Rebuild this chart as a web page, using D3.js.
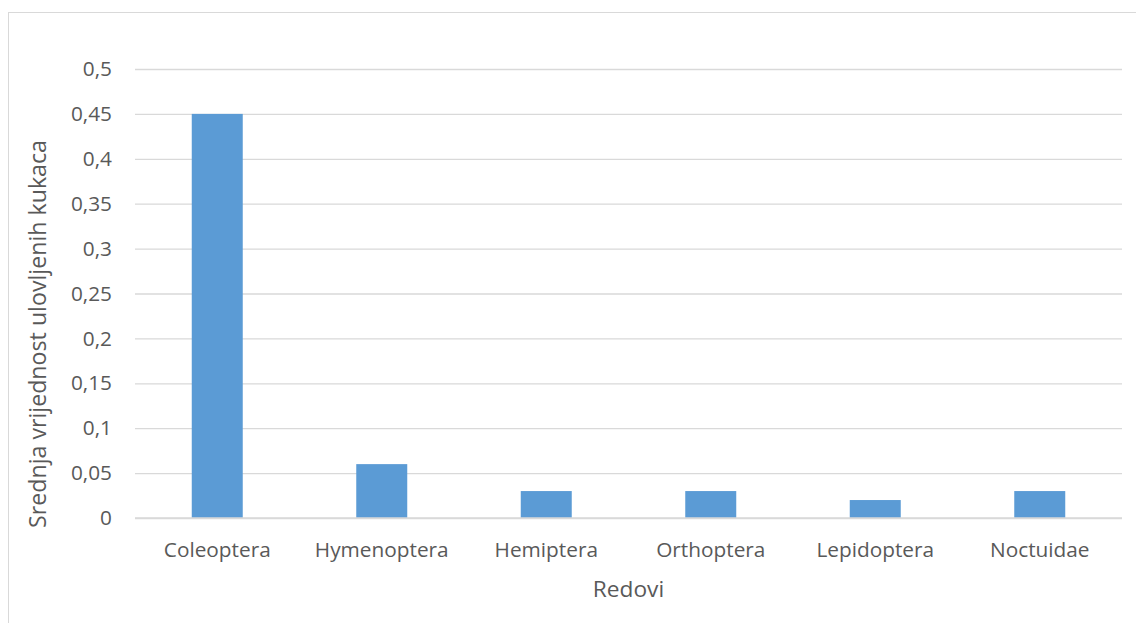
<!DOCTYPE html>
<html>
<head>
<meta charset="utf-8">
<script src="https://cdn.jsdelivr.net/npm/d3@7"></script>
<style>
  body { margin: 0; background: #fff; }
  svg { display: block; }
  text { font-family: "Open Sans", sans-serif; fill: #595959; }
</style>
</head>
<body>
<div id="chart"></div>
<script>
// data
var categories = ["Coleoptera", "Hymenoptera", "Hemiptera", "Orthoptera", "Lepidoptera", "Noctuidae"];
var values = [0.45, 0.06, 0.03, 0.03, 0.02, 0.03];
var yTicks = [0, 0.05, 0.1, 0.15, 0.2, 0.25, 0.3, 0.35, 0.4, 0.45, 0.5];
var yTitle = "Srednja vrijednost ulovljenih kukaca";
var xTitle = "Redovi";

var W = 1136, H = 623;
var plotLeft = 135, plotRight = 1122, plotTop = 69, plotBottom = 518;

var svg = d3.select("#chart").append("svg").attr("width", W).attr("height", H);

// chart frame (runs off the right and bottom edge like the reference)
svg.append("rect")
  .attr("x", 8.5).attr("y", 12.5)
  .attr("width", 1300).attr("height", 800)
  .attr("fill", "none").attr("stroke", "#d9d9d9").attr("stroke-width", 1);

var x = d3.scaleBand().domain(categories).range([plotLeft, plotRight]).paddingInner(0.69).paddingOuter(0.345);
var y = d3.scaleLinear().domain([0, 0.5]).range([plotBottom, plotTop]);
var fmt = function (d) { return String(d).replace(".", ","); };

// gridlines + y labels
var yAxis = svg.append("g").attr("transform", "translate(" + plotLeft + ",0)")
  .call(d3.axisLeft(y).tickValues(yTicks).tickSize(-(plotRight - plotLeft)).tickPadding(23).tickFormat(fmt));
yAxis.select(".domain").remove();
yAxis.selectAll("line").attr("stroke", "#d9d9d9").attr("stroke-width", 1.3);
yAxis.selectAll("text").style("font-size", "20.8px").attr("fill", "#595959")
  .attr("font-family", null);

// bars
svg.append("g").selectAll("rect")
  .data(values)
  .enter()
  .append("rect")
  .attr("x", function (d, i) { return x(categories[i]); })
  .attr("y", function (d) { return y(d); })
  .attr("width", x.bandwidth())
  .attr("height", function (d) { return y(0) - y(d); })
  .attr("fill", "#5b9bd5");

// redraw zero line on top of bars
svg.append("line")
  .attr("x1", plotLeft).attr("x2", plotRight)
  .attr("y1", y(0)).attr("y2", y(0))
  .attr("stroke", "#d9d9d9").attr("stroke-width", 1.3);

// category labels
var xAxis = svg.append("g").attr("transform", "translate(0," + plotBottom + ")")
  .call(d3.axisBottom(x).tickSize(0).tickPadding(24));
xAxis.select(".domain").remove();
xAxis.selectAll("text").style("font-size", "20.8px").attr("fill", "#595959")
  .attr("font-family", null);

// axis titles
svg.append("text")
  .attr("x", (plotLeft + plotRight) / 2).attr("y", 597)
  .attr("text-anchor", "middle")
  .style("font-size", "22.7px")
  .text(xTitle);

svg.append("text")
  .attr("transform", "translate(46,334) rotate(-90)")
  .attr("text-anchor", "middle")
  .style("font-size", "23.2px")
  .text(yTitle);
</script>
</body>
</html>
